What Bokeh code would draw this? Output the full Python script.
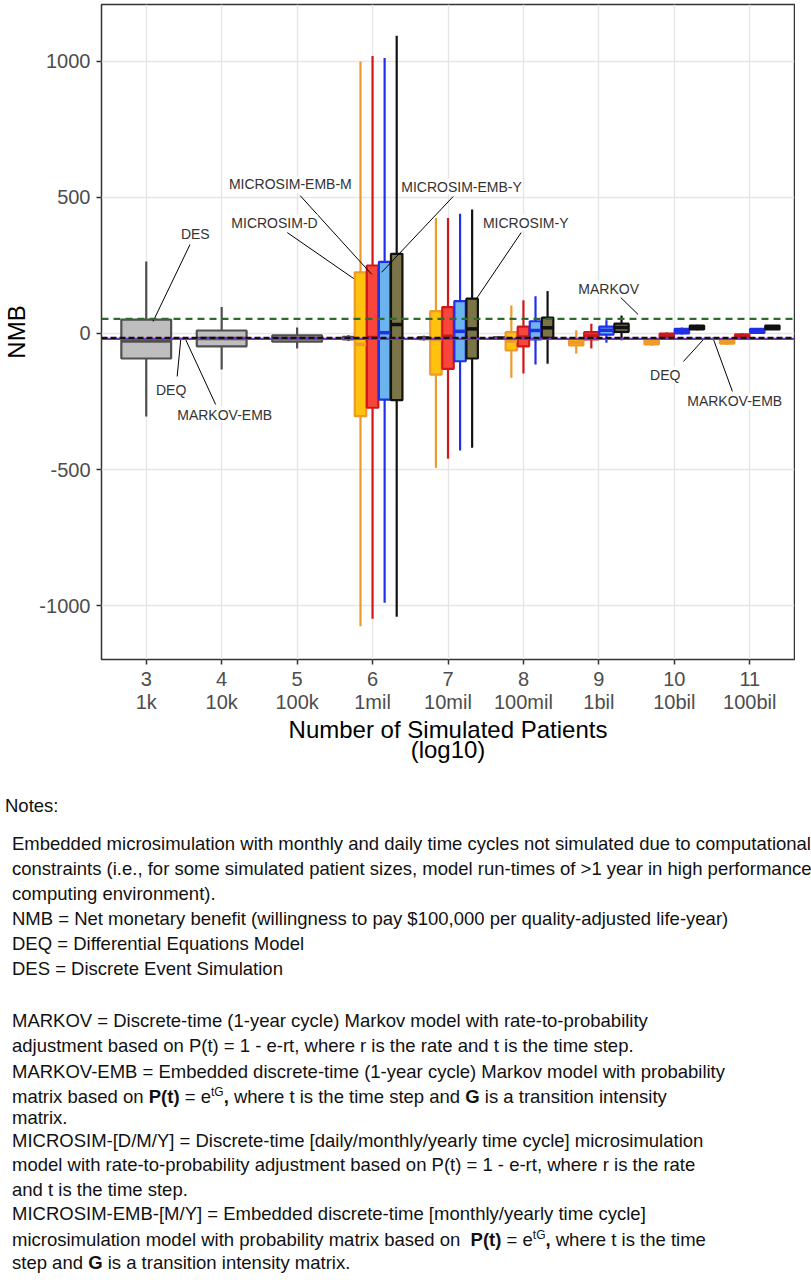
from bokeh.plotting import figure
from bokeh.models import ColumnDataSource, FixedTicker, Label, Range1d, Div, Span
from bokeh.layouts import column
from bokeh.embed import file_html
from bokeh.resources import INLINE

# ---------------- data ----------------
models = ["DES", "MICROSIM-D", "MICROSIM-EMB-M", "MICROSIM-EMB-Y", "MICROSIM-Y"]
size_log10 = [3, 4, 5, 6, 7, 8, 9, 10, 11]
size_labels = ["1k", "10k", "100k", "1mil", "10mil", "100mil", "1bil", "10bil", "100bil"]
y_ticks = [-1000, -500, 0, 500, 1000]

box_model = (["DES"] * 6 + ["MICROSIM-D"] * 6 + ["MICROSIM-EMB-M"] * 6
             + ["MICROSIM-EMB-Y"] * 6 + ["MICROSIM-Y"] * 6)
box_size = ([3, 4, 5, 6, 7, 8] + [6, 7, 8, 9, 10, 11] + [6, 7, 8, 9, 10, 11]
            + [6, 7, 8, 9, 10, 11] + [6, 7, 8, 9, 10, 11])
whisker_low = ([-305, -132, -55, -28, -26, -24] + [-1076, -494, -163, -74, -45, -42]
               + [-1049, -460, -147, -55, -20, -20] + [-990, -430, -114, -34, -4, 0]
               + [-1041, -420, -111, -25, 12, 13])
q1 = ([-92, -47, -30, -22, -21, -20] + [-304, -151, -62, -44, -40, -37]
      + [-273, -130, -47, -22, -16, -16] + [-243, -102, -22, -4, 0, 2]
      + [-245, -92, -16, 6, 15, 15])
median = ([-28, -18, -18, -17, -17, -17] + [-40, -22, -28, -32, -31, -30]
          + [-15, -10, -13, -8, -8, -9] + [3, 8, 11, 12, 8, 9]
          + [33, 17, 21, 22, 22, 22])
q3 = ([51, 11, -7, -12, -13, -14] + [225, 82, 5, -20, -22, -22]
      + [250, 97, 25, 5, 0, -3] + [263, 119, 45, 25, 17, 17]
      + [293, 128, 58, 36, 29, 29])
whisker_high = ([265, 97, 22, -6, -8, -10] + [1000, 425, 103, 12, -18, -19]
                + [1020, 425, 122, 36, 4, 1] + [1013, 440, 137, 49, 22, 20]
                + [1095, 456, 156, 66, 32, 30])

ref_names = ["MARKOV-EMB", "DEQ", "MARKOV"]
ref_values = [-20, -16, 54]

# annotation labels: text, label position, leader line start, leader line end (data units)
ann_text = ["DES", "DEQ", "MARKOV-EMB", "MICROSIM-EMB-M", "MICROSIM-D",
            "MICROSIM-EMB-Y", "MICROSIM-Y", "MARKOV", "DEQ", "MARKOV-EMB"]
ann_x = [3.65, 3.33, 4.04, 4.91, 4.70, 7.18, 8.03, 9.13, 9.88, 10.80]
ann_y = [364, -206, -298, 548, 408, 540, 408, 165, -151, -250]
lead_x0 = [3.58, 3.41, 3.92, 5.04, 4.87, 7.07, 7.97, 9.29, 10.12, 10.77]
lead_y0 = [327, -158, -261, 507, 371, 504, 371, 132, -103, -213]
lead_x1 = [3.09, 3.46, 3.51, 5.99, 5.75, 6.12, 7.37, 9.52, 10.41, 10.51]
lead_y1 = [44, -15, -15, 217, 202, 225, 125, 70, -15, -15]

# ---------------- styles ----------------
fill_col = {"DES": "#BEBEBE", "MICROSIM-D": "#FFC20E", "MICROSIM-EMB-M": "#F8473A",
            "MICROSIM-EMB-Y": "#6CB4EE", "MICROSIM-Y": "#7A7446"}
line_col = {"DES": "#505050", "MICROSIM-D": "#EE9A2A", "MICROSIM-EMB-M": "#D0181C",
            "MICROSIM-EMB-Y": "#2030E8", "MICROSIM-Y": "#111111"}
ref_style = {"MARKOV": ("#2E6B2E", "7 5"), "DEQ": ("#111111", "6 3"),
             "MARKOV-EMB": ("#8A2BE2", "solid")}

# dodge positions (ggplot-like)
xs, ws = [], []
for m, s in zip(box_model, box_size):
    present = [mm for mm, ss in zip(box_model, box_size) if ss == s]
    present = [mm for mm in models if mm in present]
    n = len(present)
    slot = 0.8 / n
    i = present.index(m)
    xs.append(s + (i - (n - 1) / 2) * slot)
    ws.append(0.66 if n == 1 else 0.95 * slot)

src = ColumnDataSource(dict(
    x=xs, w=ws, left=[x - w / 2 for x, w in zip(xs, ws)],
    right=[x + w / 2 for x, w in zip(xs, ws)],
    lo=whisker_low, q1=q1, med=median, q3=q3, hi=whisker_high,
    fill=[fill_col[m] for m in box_model], line=[line_col[m] for m in box_model],
))

p = figure(width=795, height=781, output_backend="svg", toolbar_location=None,
           x_range=Range1d(2.407, 11.593), y_range=Range1d(-1198.5, 1209.5),
           min_border_left=97, min_border_right=1, min_border_top=4, min_border_bottom=122)
p.background_fill_color = "white"
p.border_fill_color = "white"
p.outline_line_color = "#333333"
p.outline_line_width = 1.5

# grid
p.xgrid.ticker = FixedTicker(ticks=size_log10)
p.ygrid.ticker = FixedTicker(ticks=y_ticks)
for g in (p.xgrid, p.ygrid):
    g.grid_line_color = "#E6E6E6"
    g.grid_line_width = 1.4

# boxes
p.segment(x0="x", y0="lo", x1="x", y1="q1", line_color="line", line_width=2.2, source=src)
p.segment(x0="x", y0="q3", x1="x", y1="hi", line_color="line", line_width=2.2, source=src)
p.vbar(x="x", width="w", bottom="q1", top="q3", fill_color="fill", line_color="line",
       line_width=2.2, source=src)
p.segment(x0="left", y0="med", x1="right", y1="med", line_color="line", line_width=3.5,
          source=src)

# reference lines
for name, val in zip(ref_names, ref_values):
    col, dash = ref_style[name]
    p.add_layout(Span(location=val, dimension="width", line_color=col, line_width=2.2,
                      line_dash=dash))

# annotations
p.segment(x0=lead_x0, y0=lead_y0, x1=lead_x1, y1=lead_y1, line_color="black", line_width=1)
for t, x, y in zip(ann_text, ann_x, ann_y):
    p.add_layout(Label(x=x, y=y, text=t, text_align="center", text_baseline="middle",
                       text_font="Liberation Sans", text_font_size="14px",
                       text_color="#333333", background_fill_color="white"))

# axes
p.xaxis.ticker = FixedTicker(ticks=size_log10)
p.xaxis.major_label_overrides = {s: f"{s}\n{l}" for s, l in zip(size_log10, size_labels)}
p.yaxis.ticker = FixedTicker(ticks=y_ticks)
p.yaxis.major_label_overrides = {v: str(v) for v in y_ticks}
for ax in (p.xaxis, p.yaxis):
    ax.axis_line_color = None
    ax.major_tick_line_color = "#333333"
    ax.major_tick_line_width = 1.5
    ax.major_tick_out = 5
    ax.major_tick_in = 0
    ax.minor_tick_line_color = None
    ax.major_label_text_font = "Liberation Sans"
    ax.major_label_text_color = "#4D4D4D"
    ax.major_label_text_font_size = "20px"
    ax.axis_label_text_font = "Liberation Sans"
    ax.axis_label_text_font_style = "normal"
    ax.axis_label_text_color = "black"
    ax.axis_label_text_font_size = "24px"
    ax.axis_label_text_line_height = 0.76
p.xaxis.major_label_text_line_height = 1.05
p.xaxis.major_label_standoff = 3
p.yaxis.major_label_standoff = 6
p.xaxis.axis_label = "Number of Simulated Patients\n(log10)"
p.yaxis.axis_label = "NMB"
p.xaxis.axis_label_standoff = 0
p.yaxis.axis_label_standoff = 6

# ---------------- notes ----------------
SUP = "<sup style='font-size:12px;line-height:0;'>tG</sup>"
note_lines = [
    (20, 0, "Notes:"),
    (58, 7, "Embedded microsimulation with monthly and daily time cycles not simulated due to computational"),
    (83, 7, "constraints (i.e., for some simulated patient sizes, model run-times of &gt;1 year in high performance"),
    (108, 7, "computing environment)."),
    (133, 7, "NMB = Net monetary benefit (willingness to pay $100,000 per quality-adjusted life-year)"),
    (158, 7, "DEQ = Differential Equations Model"),
    (183, 7, "DES = Discrete Event Simulation"),
    (235, 7, "MARKOV = Discrete-time (1-year cycle) Markov model with rate-to-probability"),
    (260, 7, "adjustment based on P(t) = 1 - e-rt, where r is the rate and t is the time step."),
    (286, 7, "MARKOV-EMB = Embedded discrete-time (1-year cycle) Markov model with probability"),
    (311, 7, f"matrix based on <b>P(t)</b> = e{SUP}<b>,</b> where t is the time step and <b>G</b> is a transition intensity"),
    (332, 7, "matrix."),
    (355, 7, "MICROSIM-[D/M/Y] = Discrete-time [daily/monthly/yearly time cycle] microsimulation"),
    (379, 7, "model with rate-to-probability adjustment based on P(t) = 1 - e-rt, where r is the rate"),
    (404, 7, "and t is the time step."),
    (428, 7, "MICROSIM-EMB-[M/Y] = Embedded discrete-time [monthly/yearly time cycle]"),
    (454, 7, f"microsimulation model with probability matrix based on&nbsp; <b>P(t)</b> = e{SUP}<b>,</b> where t is the time"),
    (477, 7, "step and <b>G</b> is a transition intensity matrix."),
]
html = ("<div style='position:relative;width:795px;height:487px;"
        "font-family:\"Liberation Sans\",Arial,sans-serif;font-size:18.5px;color:#111;'>")
for cy, lx, t in note_lines:
    html += (f"<div style='position:absolute;left:{lx}px;top:{cy-10}px;"
             f"line-height:20px;white-space:nowrap;'>{t}</div>")
html += "</div>"
notes = Div(text=html, width=795, height=487, disable_math=True)

layout = column(p, notes, spacing=0)
open("out.html", "w").write(file_html(layout, INLINE))
